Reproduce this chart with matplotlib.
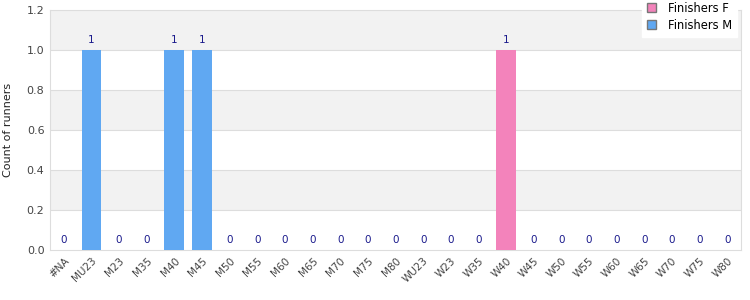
import numpy as np
import matplotlib
matplotlib.use("Agg")
import matplotlib.pyplot as plt
from matplotlib.patches import Patch

# categories and counts
categories = ["#NA", "MU23", "M23", "M35", "M40", "M45", "M50", "M55", "M60", "M65",
              "M70", "M75", "M80", "WU23", "W23", "W35", "W40", "W45", "W50", "W55",
              "W60", "W65", "W70", "W75", "W80"]
finishers_f = [0, 0, 0, 0, 0, 0, 0, 0, 0, 0, 0, 0, 0, 0, 0, 0, 1, 0, 0, 0, 0, 0, 0, 0, 0]
finishers_m = [0, 1, 0, 0, 1, 1, 0, 0, 0, 0, 0, 0, 0, 0, 0, 0, 0, 0, 0, 0, 0, 0, 0, 0, 0]

col_f = "#f383bb"
col_m = "#60a8f2"
lab_col = "#1a1a8c"

fig = plt.figure(figsize=(7.5, 3), dpi=100)
ax = fig.add_axes([0.0667, 0.1667, 0.9213, 0.80])

x = np.arange(len(categories))
f = np.array(finishers_f)
m = np.array(finishers_m)
ax.bar(x, f, width=0.72, color=col_f, zorder=3)
ax.bar(x, m, width=0.72, bottom=f, color=col_m, zorder=3)

tot = f + m
for xi, t in zip(x, tot):
    ax.annotate(str(t), (xi, t), xytext=(0, 3.5), textcoords="offset points",
                ha="center", va="bottom", fontsize=7.5, color=lab_col, zorder=4)

ax.set_xlim(-0.5, len(categories) - 0.5)
ax.set_ylim(0, 1.2)
ax.set_yticks([0, 0.2, 0.4, 0.6, 0.8, 1.0, 1.2])
ax.set_yticklabels(["0.0", "0.2", "0.4", "0.6", "0.8", "1.0", "1.2"])
for i in range(6):
    lo = i * 0.2
    ax.axhspan(lo, lo + 0.2, color="#f2f2f2" if i % 2 == 1 else "white", zorder=0, lw=0)
for yv in [0.2, 0.4, 0.6, 0.8, 1.0]:
    ax.axhline(yv, color="#dddddd", lw=0.8, zorder=1)

ax.set_xticks(x)
ax.set_xticklabels(categories, rotation=45, ha="right", rotation_mode="anchor", fontsize=7.5, color="#444444")
ax.tick_params(axis="both", length=0, pad=4)
ax.tick_params(axis="y", labelsize=8, labelcolor="#444444")
for s in ax.spines.values():
    s.set_color("#dddddd")
ax.set_ylabel("Count of runners", fontsize=8, color="#222222", labelpad=10)

handles = [Patch(facecolor=col_f, edgecolor="#777777", label="Finishers F"),
           Patch(facecolor=col_m, edgecolor="#777777", label="Finishers M")]
leg = fig.legend(handles=handles, loc="upper right", bbox_to_anchor=(0.983, 1.012),
                 fontsize=8.3, frameon=True, fancybox=False, handlelength=0.8,
                 handleheight=0.8, handletextpad=1.0, labelspacing=0.35, borderpad=0.45,
                 borderaxespad=0)
leg.get_frame().set_edgecolor("white")
leg.get_frame().set_alpha(1)

fig.savefig("out.png", dpi=100)
